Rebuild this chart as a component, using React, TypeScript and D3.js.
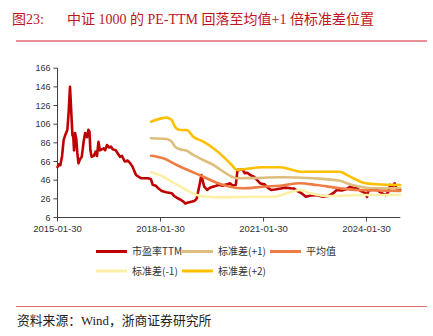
import React from "react";
import * as d3 from "d3";

const W = 433;
const H = 336;

const yTicks = [6, 26, 46, 66, 86, 106, 126, 146, 166];
const xTickDates = ["2015-01-30", "2018-01-30", "2021-01-30", "2024-01-30"];

const peDates = [
  "2015-01-30","2015-02-15","2015-03-01","2015-03-20","2015-04-05","2015-04-25","2015-05-15","2015-05-28","2015-06-12","2015-06-25",
  "2015-07-08","2015-07-15","2015-07-25","2015-08-05","2015-08-18","2015-08-28","2015-09-10","2015-09-25","2015-10-15","2015-11-05",
  "2015-11-20","2015-12-10","2015-12-25","2016-01-05","2016-01-15","2016-01-28","2016-02-20","2016-03-10","2016-03-25","2016-04-10",
  "2016-04-25","2016-05-15","2016-06-05","2016-06-20","2016-07-10","2016-08-01","2016-08-20","2016-09-10","2016-10-10","2016-11-05",
  "2016-11-25","2016-12-15","2017-01-15","2017-02-15","2017-03-15","2017-04-10","2017-04-25","2017-05-15","2017-06-05","2017-07-10",
  "2017-08-15","2017-09-20","2017-10-20","2017-11-08","2017-12-10","2018-01-10","2018-02-12","2018-04-01","2018-05-29","2018-06-25",
  "2018-07-25","2018-09-01","2018-09-30","2018-10-20","2018-11-20","2018-12-25","2019-01-30","2019-02-20","2019-03-05","2019-03-25",
  "2019-04-10","2019-04-25","2019-05-10","2019-06-10","2019-07-10","2019-08-10","2019-09-15","2019-10-15","2019-11-20","2019-12-20",
  "2020-01-20","2020-02-10","2020-03-10","2020-04-10","2020-04-28","2020-05-20","2020-06-20","2020-07-15","2020-08-10","2020-09-10",
  "2020-10-20","2020-12-20","2021-01-10","2021-02-10","2021-03-15","2021-04-20","2021-06-01","2021-08-01","2021-09-15","2021-11-15",
  "2021-12-20","2022-02-01","2022-03-10","2022-04-25","2022-06-15","2022-08-15","2022-09-20","2022-10-25","2022-12-15","2023-02-10",
  "2023-03-20","2023-05-10","2023-06-20","2023-08-10","2023-09-10","2023-10-20","2023-12-10","2024-01-20","2024-02-05","2024-02-20",
  "2024-04-10","2024-05-20","2024-07-10","2024-08-20","2024-09-20","2024-10-08","2024-10-25","2024-11-25","2024-12-15","2025-01-23",
];
const peValues = [
  60, 63, 62, 72, 89, 95, 100, 118, 146, 120,
  94, 96, 78, 96.5, 90, 76, 64, 68, 71, 88,
  96.5, 92, 100, 98, 78, 71, 72, 76.5, 72, 87,
  78, 79, 80, 78, 83.7, 81, 82, 79, 78, 74,
  71, 72, 66, 67, 64, 60, 56, 51.5, 50, 48,
  48, 48, 47, 41, 40, 37, 34.4, 33, 32, 29,
  27, 25, 23, 21, 22, 23, 24, 26.5, 33, 43,
  51.5, 45, 39, 35.5, 38, 39, 40, 41, 40, 41,
  42, 42.6, 40, 41, 57, 57, 57.6, 53.4, 54, 51.5,
  49.7, 43, 42, 41.5, 38, 35.5, 36, 37, 38, 37.3,
  37, 34, 32, 28.3, 29.5, 30, 29, 28.3, 29, 32,
  35.5, 35, 36, 39, 38, 37, 34, 32, 28, 35,
  36, 35.5, 32, 30, 33.6, 41, 38, 42.6, 37, 35.5,
];

const plus2Dates = ["2017-10-22","2018-04-05","2018-05-29","2018-07-03","2018-08-25","2018-11-04","2019-01-14","2019-04-30","2019-08-15","2019-11-29","2020-02-27","2020-04-20","2020-06-29","2021-01-29","2021-07-25","2021-11-09","2022-02-23","2023-04-24","2023-07-04","2023-10-19","2023-12-28","2024-05-19","2025-01-23"];
const plus2Values = [108.7, 113.0, 110.5, 103.3, 99.8, 99.8, 92.6, 87.2, 80.2, 71.2, 62.3, 56.9, 57.7, 59.8, 59.8, 57.7, 55.1, 55.1, 51.6, 46.2, 43.3, 41.6, 40.8];

const plus1Dates = ["2017-10-22","2018-04-05","2018-05-29","2018-07-03","2018-08-25","2018-11-04","2019-01-14","2019-04-30","2019-08-15","2019-11-29","2020-02-27","2020-04-20","2020-09-08","2021-07-25","2022-07-14","2023-04-24","2023-07-04","2023-10-19","2024-04-14","2025-01-23"];
const plus1Values = [90.9, 90.1, 87.2, 81.9, 79.1, 77.6, 73.0, 67.6, 62.3, 55.1, 49.7, 48.0, 48.2, 49.1, 48.0, 45.4, 42.7, 39.8, 37.3, 37.3];

const meanDates = ["2017-10-22","2018-03-01","2018-07-21","2018-12-10","2019-04-30","2019-09-20","2020-02-09","2020-06-29","2021-01-29","2021-07-25","2022-02-23","2022-08-19","2023-04-24","2023-10-19","2025-01-23"];
const meanValues = [72.2, 69.4, 62.3, 55.8, 49.7, 43.3, 39.0, 37.3, 39.0, 40.1, 42.7, 40.8, 37.3, 35.5, 34.4];

const minus1Dates = ["2017-10-22","2018-03-01","2018-06-15","2018-09-29","2019-02-19","2019-06-05","2019-11-29","2020-09-08","2021-05-15","2021-10-05","2022-02-23","2022-06-09","2023-01-08","2023-12-28","2025-01-23"];
const minus1Values = [54.4, 49.7, 43.3, 37.3, 30.1, 28.3, 27.6, 28.3, 28.3, 31.9, 35.5, 31.9, 29.0, 30.1, 30.1];

const legendLabels = ["市盈率TTM", "标准差(+1)", "平均值", "标准差(-1)", "标准差(+2)"];
const colors = ["#C00000", "#DDBE7C", "#EE7D45", "#FBF0A5", "#FFC000"];

const parse = d3.timeParse("%Y-%m-%d");

export default function App() {
  const x = d3
    .scaleTime()
    .domain([parse("2015-01-30")!, parse("2025-01-24")!])
    .range([57.5, 400.3]);
  const y = d3.scaleLinear().domain([6, 166]).range([217.5, 68.2]);

  const mk = (ds: string[], vs: number[]) => ds.map((d, i) => ({ d: parse(d)!, v: vs[i] }));
  const line = d3
    .line<{ d: Date; v: number }>()
    .x((p) => x(p.d))
    .y((p) => y(p.v))
    .curve(d3.curveLinear);
  const smooth = d3
    .line<{ d: Date; v: number }>()
    .x((p) => x(p.d))
    .y((p) => y(p.v))
    .curve(d3.curveMonotoneX);

  const series = [
    { path: line(mk(peDates, peValues)), color: colors[0], w: 2.6 },
    { path: smooth(mk(plus1Dates, plus1Values)), color: colors[1], w: 2.6 },
    { path: smooth(mk(meanDates, meanValues)), color: colors[2], w: 2.6 },
    { path: smooth(mk(minus1Dates, minus1Values)), color: colors[3], w: 2.6 },
    { path: smooth(mk(plus2Dates, plus2Values)), color: colors[4], w: 2.6 },
  ];

  const legendPos = [
    { x: 96, y: 251.5 },
    { x: 182, y: 251.5 },
    { x: 270, y: 251.5 },
    { x: 96, y: 271 },
    { x: 182, y: 271 },
  ];

  const axisColor = "#404040";
  const tickFont = "'Liberation Sans', Arial, sans-serif";
  const serif = "'Liberation Serif', 'Times New Roman', 'Noto Sans CJK SC', serif";

  return (
    <svg
      width={W}
      height={H}
      viewBox={`0 0 ${W} ${H}`}
      style={{ position: "absolute", left: 0, top: 0, background: "#fff" }}
    >
      <rect x={0} y={0} width={W} height={H} fill="#fff" />
      <text x={12} y={24} fontSize={14} fill="#C0141C" fontFamily={serif}>
        图23:
      </text>
      <text x={67} y={24} fontSize={14} fill="#C0141C" fontFamily={serif}>
        中证 1000 的 PE-TTM 回落至均值+1 倍标准差位置
      </text>
      <line x1={16} x2={427} y1={41} y2={41} stroke="#D02030" strokeWidth={1} />

      {/* y axis */}
      <line x1={57.5} x2={57.5} y1={y(166)} y2={y(6)} stroke={axisColor} strokeWidth={1} />
      {yTicks.map((t) => (
        <g key={t}>
          <line x1={53.5} x2={57.5} y1={y(t)} y2={y(t)} stroke={axisColor} strokeWidth={1} />
          <text
            x={50.5}
            y={y(t)}
            dy="0.35em"
            textAnchor="end"
            fontSize={9}
            fill="#333"
            fontFamily={tickFont}
          >
            {t}
          </text>
        </g>
      ))}
      {/* x axis */}
      <line x1={57.5} x2={400.3} y1={217.5} y2={217.5} stroke={axisColor} strokeWidth={1} />
      {xTickDates.map((t) => {
        const px = x(parse(t)!);
        return (
          <g key={t}>
            <line x1={px} x2={px} y1={217.5} y2={221.5} stroke={axisColor} strokeWidth={1} />
            <text
              x={px}
              y={232}
              textAnchor="middle"
              fontSize={9.5}
              fill="#333"
              fontFamily={tickFont}
            >
              {t}
            </text>
          </g>
        );
      })}

      {series.map((s, i) => (
        <path
          key={i}
          d={s.path || ""}
          fill="none"
          stroke={s.color}
          strokeWidth={s.w}
          strokeLinejoin="round"
          strokeLinecap="round"
        />
      ))}

      {legendLabels.map((l, i) => (
        <g key={l}>
          <line
            x1={legendPos[i].x}
            x2={legendPos[i].x + 31}
            y1={legendPos[i].y}
            y2={legendPos[i].y}
            stroke={colors[i]}
            strokeWidth={3}
          />
          <text
            x={legendPos[i].x + 36}
            y={legendPos[i].y}
            dy="0.36em"
            fontSize={10}
            fill="#333"
            fontFamily="'Noto Sans CJK SC', sans-serif"
          >
            {l}
          </text>
        </g>
      ))}

      <line x1={16} x2={427} y1={306.5} y2={306.5} stroke="#E07070" strokeWidth={1.2} />
      <text x={17} y={325} fontSize={12.8} fill="#222" fontFamily={serif}>
        资料来源：Wind，浙商证券研究所
      </text>
    </svg>
  );
}
